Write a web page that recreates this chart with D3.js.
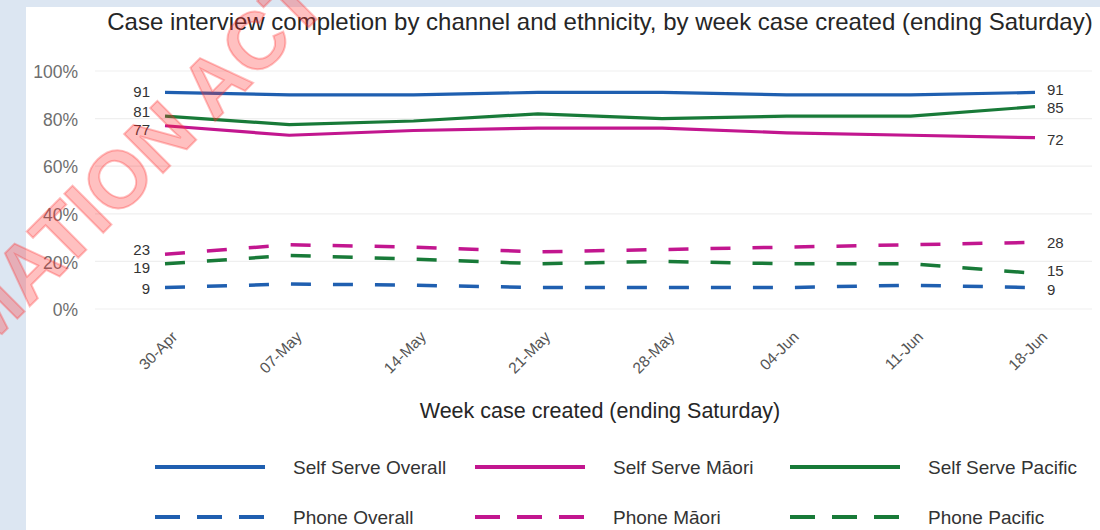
<!DOCTYPE html>
<html>
<head>
<meta charset="utf-8">
<script src="https://cdn.jsdelivr.net/npm/d3@7"></script>
<style>
  html, body { margin: 0; padding: 0; background: #dce6f2; }
  svg { display: block; font-family: "Liberation Sans", Arial, Helvetica, sans-serif; }
</style>
</head>
<body>
<svg id="chart" width="1100" height="530"></svg>
<script>
// ---------- DATA ----------
const weeks = ["30-Apr", "07-May", "14-May", "21-May", "28-May", "04-Jun", "11-Jun", "18-Jun"];
const selfServeOverall = [91, 90, 90, 91, 91, 90, 90, 91];
const selfServeMaori   = [77, 73, 75, 76, 76, 74, 73, 72];
const selfServePacific = [81, 77.5, 79, 82, 80, 81, 81, 85];
const phoneOverall     = [9, 10.5, 10, 9, 9, 9, 10, 9];
const phoneMaori       = [23, 27, 26, 24, 25, 26, 27, 28];
const phonePacific     = [19, 22.5, 21, 19, 20, 19, 19, 15];
const yTicks = [0, 20, 40, 60, 80, 100];
const seriesNames = ["Self Serve Overall", "Self Serve Māori", "Self Serve Pacific",
                     "Phone Overall", "Phone Māori", "Phone Pacific"];
const titleText = "Case interview completion by channel and ethnicity, by week case created (ending Saturday)";
const xTitleText = "Week case created (ending Saturday)";

// ---------- STYLE / LAYOUT ----------
const colors = { Overall: "#1f5fb0", Maori: "#c2168f", Pacific: "#187a38" };
const series = [
  { name: seriesNames[0], values: selfServeOverall, color: colors.Overall, dashed: false, dyL: -1, dyR: -3 },
  { name: seriesNames[1], values: selfServeMaori,   color: colors.Maori,   dashed: false, dyL: 4,  dyR: 2 },
  { name: seriesNames[2], values: selfServePacific, color: colors.Pacific, dashed: false, dyL: -4, dyR: 1 },
  { name: seriesNames[3], values: phoneOverall,     color: colors.Overall, dashed: true,  dyL: 1,  dyR: 2 },
  { name: seriesNames[4], values: phoneMaori,       color: colors.Maori,   dashed: true,  dyL: -5, dyR: 0 },
  { name: seriesNames[5], values: phonePacific,     color: colors.Pacific, dashed: true,  dyL: 4,  dyR: -3 }
];

const svg = d3.select("#chart");

// outer border + white panel
svg.append("rect").attr("x", 0).attr("y", 0).attr("width", 1100).attr("height", 530).attr("fill", "#dce6f2");
svg.append("rect").attr("x", 26).attr("y", 7).attr("width", 1074).attr("height", 523).attr("fill", "#ffffff");

const x = d3.scalePoint().domain(weeks).range([165, 1035]);
const y = d3.scaleLinear().domain([0, 100]).range([309, 71]);

// title
svg.append("text")
  .attr("x", 600).attr("y", 30)
  .attr("text-anchor", "middle")
  .attr("font-size", 24)
  .attr("fill", "#262626")
  .text(titleText);

// gridlines
svg.append("g").selectAll("line").data(yTicks).join("line")
  .attr("x1", 95).attr("x2", 1092)
  .attr("y1", d => y(d)).attr("y2", d => y(d))
  .attr("stroke", "#efefef").attr("stroke-width", 1.2);

// y axis labels
const yAxis = d3.axisLeft(y).tickValues(yTicks).tickFormat(d => d + "%").tickSize(0).tickPadding(0);
const gy = svg.append("g").attr("transform", "translate(78,1)").call(yAxis);
gy.select(".domain").remove();
gy.selectAll("text").attr("font-size", 17.5).attr("fill", "#6e6e6e")
  .attr("font-family", "Liberation Sans, Arial, sans-serif");

// x axis labels
const xAxis = d3.axisBottom(x).tickSize(0).tickPadding(0);
const gx = svg.append("g").attr("transform", "translate(0,334)").call(xAxis);
gx.select(".domain").remove();
gx.selectAll("text")
  .attr("font-size", 15.5).attr("fill", "#555")
  .attr("font-family", "Liberation Sans, Arial, sans-serif")
  .attr("text-anchor", "end")
  .attr("dy", "0.35em")
  .attr("transform", "translate(9,0) rotate(-45)");

// x axis title
svg.append("text")
  .attr("x", 600).attr("y", 418)
  .attr("text-anchor", "middle")
  .attr("font-size", 21.5)
  .attr("fill", "#262626")
  .text(xTitleText);

// lines
const line = d3.line().x((d, i) => x(weeks[i])).y(d => y(d));
svg.append("g").selectAll("path").data(series).join("path")
  .attr("d", d => line(d.values))
  .attr("fill", "none")
  .attr("stroke", d => d.color)
  .attr("stroke-width", d => d.dashed ? 3.5 : 3.2)
  .attr("stroke-dasharray", d => d.dashed ? "20,22" : null)
  .attr("stroke-linejoin", "round");

// end labels
const lab = svg.append("g").attr("font-size", 15).attr("fill", "#333");
lab.selectAll("text.l").data(series).join("text").attr("class", "l")
  .attr("x", x(weeks[0]) - 15)
  .attr("y", d => y(d.values[0]) + d.dyL)
  .attr("dy", "0.35em")
  .attr("text-anchor", "end")
  .text(d => Math.round(d.values[0]));
lab.selectAll("text.r").data(series).join("text").attr("class", "r")
  .attr("x", x(weeks[weeks.length - 1]) + 12)
  .attr("y", d => y(d.values[d.values.length - 1]) + d.dyR)
  .attr("dy", "0.35em")
  .attr("text-anchor", "start")
  .text(d => Math.round(d.values[d.values.length - 1]));

// legend
const legendCols = [155, 475, 790];
const legendRows = [467, 517];
const lg = svg.append("g");
series.forEach((s, i) => {
  const cx = legendCols[i % 3], cy = legendRows[Math.floor(i / 3)];
  lg.append("line")
    .attr("x1", cx).attr("x2", cx + 110).attr("y1", cy).attr("y2", cy)
    .attr("stroke", s.color).attr("stroke-width", 4)
    .attr("stroke-dasharray", s.dashed ? "25,17" : null);
  lg.append("text")
    .attr("x", cx + 138).attr("y", cy).attr("dy", "0.35em")
    .attr("font-size", 19).attr("fill", "#333")
    .text(s.name);
});

// watermark
svg.append("text")
  .attr("transform", "translate(330,6) rotate(-45)")
  .attr("text-anchor", "end")
  .attr("font-size", 80)
  .attr("font-weight", "bold")
  .attr("fill", "#ff3030")
  .attr("fill-opacity", 0.3)
  .attr("stroke", "#ff3030")
  .attr("stroke-opacity", 0.3)
  .attr("stroke-width", 2)
  .text("INFORMATION ACT");
</script>
</body>
</html>
